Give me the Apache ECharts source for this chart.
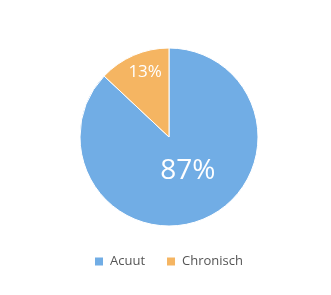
<!DOCTYPE html>
<html><head><meta charset="utf-8">
<script src="https://cdn.jsdelivr.net/npm/echarts@6/dist/echarts.min.js"></script>
<style>html,body{margin:0;padding:0;background:#fff}#c{width:331px;height:295px}</style>
</head><body><div id="c"></div>
<script>
const categories = ['Acuut', 'Chronisch'];
const values = [87, 13];
const colors = ['#71ade5', '#f5b562'];
const labelFontSizes = [28, 17];
const labelShift = [[0, -10], [-5, -21]];

const chart = echarts.init(document.getElementById('c'), null, {renderer: 'canvas'});
chart.setOption({
  animation: false,
  legend: {
    bottom: 22, left: 88,
    itemWidth: 10, itemHeight: 10, itemGap: 20,
    icon: 'rect',
    textStyle: {fontFamily: 'Open Sans', fontSize: 13, color: '#555', padding: [0, 0, 0, 1]},
    data: categories
  },
  series: [{
    type: 'pie',
    center: [169, 137], radius: 89,
    startAngle: 90, clockwise: true,
    itemStyle: {borderColor: '#fff', borderWidth: 1},
    label: {position: 'inside', color: '#fff', fontFamily: 'Open Sans', formatter: '{d}%'},
    labelLine: {show: false},
    emphasis: {disabled: true},
    labelLayout: function (p) { return {dx: labelShift[p.dataIndex][0], dy: labelShift[p.dataIndex][1]}; },
    data: categories.map((c, i) => ({
      name: c, value: values[i],
      itemStyle: {color: colors[i]},
      label: {fontSize: labelFontSizes[i]}
    }))
  }]
});
</script></body></html>
